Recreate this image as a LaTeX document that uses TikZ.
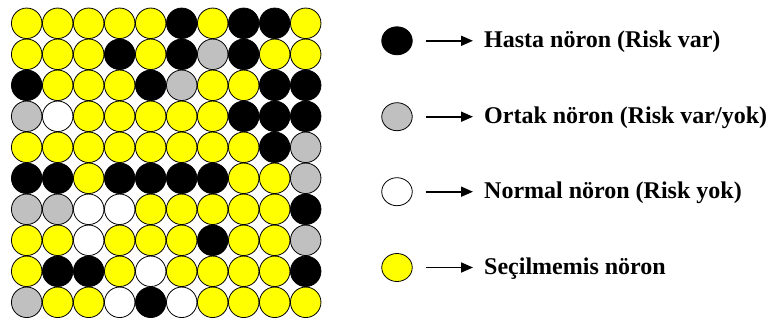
\documentclass[tikz,border=0pt]{standalone}
\usepackage{fontspec}
\setmainfont{Liberation Serif}
\usepackage{tikz}
\usetikzlibrary{arrows.meta,shapes.geometric}

\definecolor{B}{RGB}{0,0,0}
\definecolor{G}{RGB}{192,192,192}
\definecolor{W}{RGB}{255,255,255}
\definecolor{Y}{RGB}{255,255,0}

\tikzset{
  noron/.style={circle,draw=black,line width=0.8pt,inner sep=0pt,minimum size=30.5pt},
  lejant/.style={ellipse,draw=black,line width=0.8pt,inner sep=0pt,minimum width=30.5pt,minimum height=28pt},
  aciklama/.style={anchor=base west,inner sep=0pt,font=\fontsize{24}{28}\selectfont\bfseries},
  ok/.style={line width=1.8pt,-{Triangle[length=12pt,width=10pt]},shorten <=13pt,shorten >=11pt}
}

\begin{document}
\begin{tikzpicture}[x=1pt,y=-1pt]
        \useasboundingbox (0,0) rectangle (767,321);
        % 10x10 noron izgarasi
        \foreach \satir [count=\j] in {
            {Y,Y,Y,Y,Y,B,Y,B,B,Y},
            {Y,Y,Y,B,Y,B,G,B,Y,Y},
            {B,Y,Y,Y,B,G,Y,Y,B,B},
            {G,W,Y,Y,Y,Y,Y,B,B,B},
            {Y,Y,Y,Y,Y,Y,Y,Y,B,G},
            {B,B,Y,B,B,B,B,Y,Y,G},
            {G,G,W,W,Y,Y,Y,Y,Y,B},
            {Y,Y,W,Y,Y,Y,B,Y,Y,G},
            {Y,B,B,Y,W,Y,Y,Y,Y,B},
            {G,Y,Y,W,B,W,Y,Y,Y,Y}}
            \foreach \renk [count=\i] in \satir
                \node[noron,fill=\renk] (n\j-\i) at ({26.7+31*(\i-1)},{23.3+31*(\j-1)}) {};
        % lejant
        \node[lejant,fill=B] (lhasta) at (397,40.8) {};
        \node[lejant,fill=G] (lortak) at (397,116.7) {};
        \node[lejant,fill=W] (lnormal) at (397,191.7) {};
        \node[lejant,fill=Y] (lsecil) at (397,267.5) {};
        \node[aciklama] (thasta) at (484,47.5) {Hasta nöron (Risk var)};
        \node[aciklama] (tortak) at (484,123.5) {Ortak nöron (Risk var/yok)};
        \node[aciklama] (tnormal) at (484,198.5) {Normal nöron (Risk yok)};
        \node[aciklama] (tsecil) at (484,274.5) {Seçilmemis nöron};
        \draw[ok] (lhasta.east) -- (lhasta.east -| thasta.west);
        \draw[ok] (lortak.east) -- (lortak.east -| tortak.west);
        \draw[ok] (lnormal.east) -- (lnormal.east -| tnormal.west);
        \draw[ok] (lsecil.east) -- (lsecil.east -| tsecil.west);
\end{tikzpicture}
\end{document}
